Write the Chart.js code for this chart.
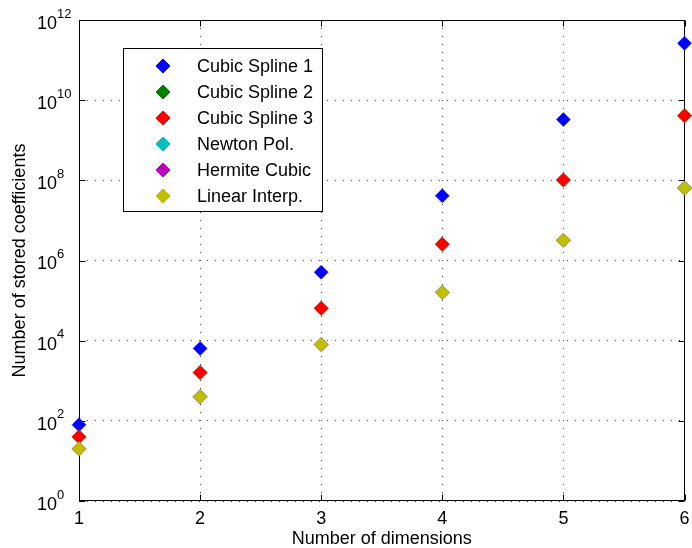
<!DOCTYPE html>
<html>
<head>
<meta charset="utf-8">
<script src="https://cdn.jsdelivr.net/npm/chart.js@4.4.1/dist/chart.umd.min.js"></script>
<style>
  html, body { margin: 0; padding: 0; background: #fff; }
  canvas { display: block; }
</style>
</head>
<body>
<canvas id="myChart" width="692" height="548"></canvas>
<script>
// number of dimensions
var dims = [1, 2, 3, 4, 5, 6];

// stored coefficients per method
var cubicSpline1 = [80, 6400, 512000, 4.1e7, 3.28e9, 2.62e11];
var cubicSpline2 = [40, 1600, 64000, 2.56e6, 1.02e8, 4.1e9];
var cubicSpline3 = [40, 1600, 64000, 2.56e6, 1.02e8, 4.1e9];
var newtonPol = [20, 400, 8000, 160000, 3.2e6, 6.4e7];
var hermiteCubic = [20, 400, 8000, 160000, 3.2e6, 6.4e7];
var linearInterp = [20, 400, 8000, 160000, 3.2e6, 6.4e7];

var seriesNames = ['Cubic Spline 1', 'Cubic Spline 2', 'Cubic Spline 3', 'Newton Pol.', 'Hermite Cubic', 'Linear Interp.'];
var seriesColors = ['#0000ff', '#008000', '#ff0000', '#00bfbf', '#bf00bf', '#bfbf00'];
var seriesValues = [cubicSpline1, cubicSpline2, cubicSpline3, newtonPol, hermiteCubic, linearInterp];

var yTicks = [1, 1e2, 1e4, 1e6, 1e8, 1e10, 1e12];

var FONT = "'Liberation Sans', Arial, Helvetica, sans-serif";

var datasets = seriesValues.map(function (vals, i) {
    return {
        label: seriesNames[i],
        data: dims.map(function (d, j) { return { x: d, y: vals[j] }; }),
        backgroundColor: seriesColors[i],
        borderColor: seriesColors[i],
        pointStyle: 'rectRot',
        pointRadius: 7,
        pointHoverRadius: 7,
        borderWidth: 0.5,
        showLine: false,
        clip: false,
        order: seriesNames.length - i   // later series on top
    };
});

function line(ctx, x1, y1, x2, y2) {
    ctx.beginPath();
    ctx.moveTo(x1, y1);
    ctx.lineTo(x2, y2);
    ctx.stroke();
}

// axes box with inward tick marks, taken from the scale ends
function drawFrame(chart) {
    var ctx = chart.ctx;
    var xs = chart.scales.x, ys = chart.scales.y;
    var L = Math.round(xs.getPixelForValue(xs.min)) + 0.5;
    var R = Math.round(xs.getPixelForValue(xs.max)) - 0.5;
    var T = Math.round(ys.getPixelForValue(ys.max)) + 0.5;
    var B = Math.round(ys.getPixelForValue(ys.min)) - 0.5;
    ctx.save();
    ctx.setLineDash([]);
    ctx.strokeStyle = '#000';
    ctx.lineWidth = 1;
    line(ctx, L, T, R, T);
    line(ctx, R, T, R, B);
    line(ctx, L, B, R, B);
    line(ctx, L, T, L, B);
    xs.ticks.forEach(function (t) {
        var x = Math.round(xs.getPixelForValue(t.value)) + 0.5;
        line(ctx, x, B, x, B - 6);
        line(ctx, x, T, x, T + 6);
    });
    ys.ticks.forEach(function (t) {
        var y = Math.round(ys.getPixelForValue(t.value)) + 0.5;
        line(ctx, L, y, L + 6, y);
        line(ctx, R, y, R - 6, y);
    });
    ctx.restore();
}

var frame = {
    id: 'frame',
    beforeDatasetsDraw: function (chart) {
        drawFrame(chart);
    },
    afterDraw: function (chart) {
        var ctx = chart.ctx, ys = chart.scales.y;
        ctx.save();
        ctx.fillStyle = '#000';
        // y labels as powers of ten
        ys.ticks.forEach(function (t) {
            var y = ys.getPixelForValue(t.value);
            var p = Math.round(Math.log10(t.value));
            ctx.textBaseline = 'middle';
            ctx.textAlign = 'right';
            ctx.font = '18px ' + FONT;
            ctx.fillText('10', 57, y + 4);
            ctx.textAlign = 'left';
            ctx.font = '13px ' + FONT;
            ctx.fillText(String(p), 57, y - 6);
        });

        // legend inside the axes
        var bx = 123.5, by = 48.5, bw = 199, bh = 163;
        ctx.setLineDash([]);
        ctx.fillStyle = '#fff';
        ctx.fillRect(bx, by, bw, bh);
        ctx.strokeStyle = '#000';
        ctx.lineWidth = 1;
        ctx.strokeRect(bx, by, bw, bh);
        chart.data.datasets.forEach(function (ds, i) {
            var y = 66 + i * 26;
            ctx.fillStyle = ds.backgroundColor;
            ctx.strokeStyle = ds.borderColor;
            Chart.helpers.drawPoint(ctx, { pointStyle: 'rectRot', radius: 7, borderWidth: 0.5 }, 163, y);
            ctx.fillStyle = '#000';
            ctx.font = '18px ' + FONT;
            ctx.textAlign = 'left';
            ctx.textBaseline = 'middle';
            ctx.fillText(ds.label, 197, y + 1);
        });
        ctx.restore();
    }
};

var ctx = document.getElementById('myChart');
new Chart(ctx, {
    type: 'scatter',
    data: { datasets: datasets },
    plugins: [frame],
    options: {
        responsive: false,
        animation: false,
        layout: { padding: { top: 20, right: 6, left: 0, bottom: 0 } },
        plugins: {
            legend: { display: false },
            tooltip: { enabled: false }
        },
        scales: {
            x: {
                type: 'linear',
                min: 1,
                max: 6,
                ticks: {
                    stepSize: 1,
                    color: '#000',
                    font: { family: FONT, size: 18 },
                    padding: 7,
                    maxRotation: 0
                },
                grid: {
                    color: 'rgba(0,0,0,0.75)',
                    lineWidth: 1,
                    drawTicks: false
                },
                border: { display: false, dash: [1, 7] },
                title: {
                    display: true,
                    text: 'Number of dimensions',
                    color: '#000',
                    font: { family: FONT, size: 18 },
                    padding: { top: 0, bottom: -2 }
                },
                afterFit: function (scale) {
                    scale.height = 47;
                    scale.paddingLeft = 0;
                    scale.paddingRight = 0;
                }
            },
            y: {
                type: 'logarithmic',
                min: 1,
                max: 1e12,
                afterBuildTicks: function (scale) {
                    scale.ticks = yTicks.map(function (v) { return { value: v, major: true }; });
                },
                ticks: { display: false },
                grid: {
                    color: 'rgba(0,0,0,0.75)',
                    lineWidth: 1,
                    drawTicks: false
                },
                border: { display: false, dash: [1, 7] },
                title: {
                    display: true,
                    text: 'Number of stored coefficients',
                    color: '#000',
                    font: { family: FONT, size: 18 },
                    padding: { top: 9, bottom: 0 }
                },
                afterFit: function (scale) { scale.width = 79; }
            }
        }
    }
});
</script>
</body>
</html>
